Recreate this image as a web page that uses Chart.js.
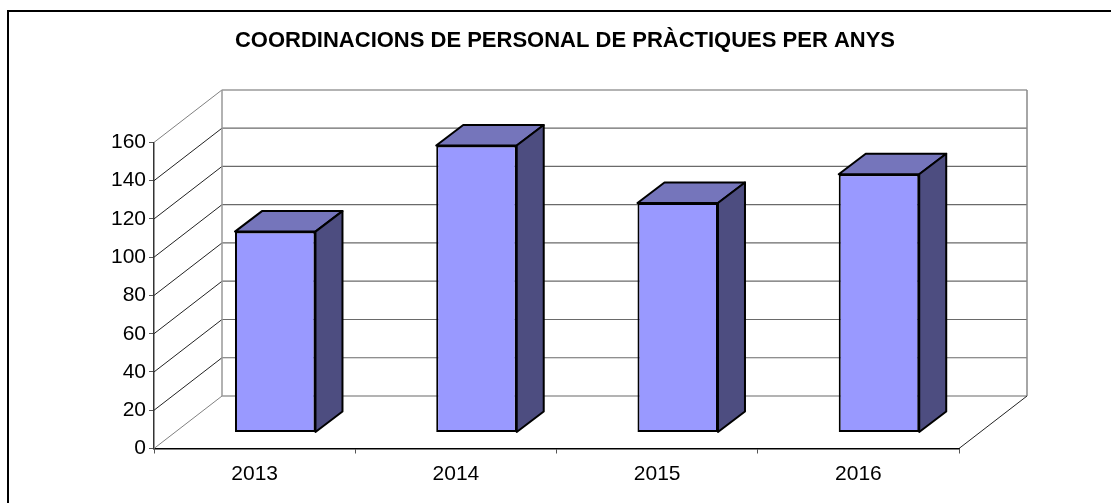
<!DOCTYPE html>
<html><head><meta charset="utf-8">
<style>html,body{margin:0;padding:0;background:#fff}canvas{display:block}</style>
<script src="https://cdn.jsdelivr.net/npm/chart.js@4"></script>
</head><body><canvas id="c" width="1111" height="503"></canvas>
<script>
const titleText = "COORDINACIONS DE PERSONAL DE PRÀCTIQUES PER ANYS";
const categories = ["2013", "2014", "2015", "2016"];
const coordinacions = [105, 150, 120, 135];

const WALL_DX = 68, WALL_DY = -52.5;      // depth of the floor/back wall
const BAR_DX = 20.6, BAR_DY = -16;        // where the bars stand on the floor
const SIDE_DX = 27, SIDE_DY = -20.5;      // depth of each bar

function line(ctx, x1, y1, x2, y2, color, w) {
  ctx.beginPath(); ctx.moveTo(x1, y1); ctx.lineTo(x2, y2);
  ctx.strokeStyle = color; ctx.lineWidth = w; ctx.stroke();
}

const scene3d = {
  id: "scene3d",
  beforeDraw(chart) {
    const ctx = chart.ctx;
    ctx.save();
    // outer frame (only top and left are in view)
    line(ctx, 8, 11, 1111, 11, "#000", 2);
    line(ctx, 8, 10, 8, 503, "#000", 2);
    ctx.restore();
  },
  beforeDatasetsDraw(chart) {
    const { ctx, scales: { x, y }, chartArea: a } = chart;
    ctx.save();
    const lastI = y.ticks.length - 1;
    y.ticks.forEach((t, i) => {
      const py = y.getPixelForValue(t.value);
      const edge = i === 0 || i === lastI;
      line(ctx, a.left, py, a.left + WALL_DX, py + WALL_DY, edge ? "#808080" : "#222", 1);
      line(ctx, a.left + WALL_DX, py + WALL_DY, a.right + WALL_DX, py + WALL_DY, edge ? "#9a9a9a" : "#6a6a6a", i === 0 || i === lastI ? 1.5 : 1.2);
    });
    // back wall edges and floor right edge
    line(ctx, a.left + WALL_DX, a.top + WALL_DY, a.left + WALL_DX, a.bottom + WALL_DY, "#999", 1.5);
    line(ctx, a.right + WALL_DX, a.top + WALL_DY, a.right + WALL_DX, a.bottom + WALL_DY, "#888", 1.5);
    line(ctx, a.right, a.bottom, a.right + WALL_DX, a.bottom + WALL_DY, "#222", 1);
    ctx.restore();
  },
  beforeDatasetDraw(chart) {
    const ctx = chart.ctx;
    ctx.save();
    ctx.translate(BAR_DX, BAR_DY);
    ctx.lineJoin = "round";
    chart.getDatasetMeta(0).data.forEach(b => {
      const p = b.getProps(["x", "y", "base", "width"], true);
      const l = p.x - p.width / 2, r = p.x + p.width / 2;
      // top face
      ctx.beginPath();
      ctx.moveTo(l, p.y); ctx.lineTo(l + SIDE_DX, p.y + SIDE_DY);
      ctx.lineTo(r + SIDE_DX, p.y + SIDE_DY); ctx.lineTo(r, p.y); ctx.closePath();
      ctx.fillStyle = "#7575BB"; ctx.fill();
      ctx.strokeStyle = "#000"; ctx.lineWidth = 2; ctx.stroke();
      // side face
      ctx.beginPath();
      ctx.moveTo(r, p.y); ctx.lineTo(r + SIDE_DX, p.y + SIDE_DY);
      ctx.lineTo(r + SIDE_DX, p.base + SIDE_DY); ctx.lineTo(r, p.base); ctx.closePath();
      ctx.fillStyle = "#4D4D80"; ctx.fill();
      ctx.stroke();
    });
  },
  afterDatasetDraw(chart) { chart.ctx.restore(); }
};

new Chart(document.getElementById("c"), {
  type: "bar",
  data: {
    labels: categories,
    datasets: [{
      data: coordinacions,
      backgroundColor: "#9999FF",
      borderColor: "#000",
      borderWidth: 2,
      borderSkipped: false,
      clip: false,
      barPercentage: 0.4,
      categoryPercentage: 1
    }]
  },
  plugins: [scene3d],
  options: {
    responsive: false,
    animation: false,
    layout: { padding: { left: 19, right: 0, top: 0, bottom: 0 } },
    plugins: {
      legend: { display: false },
      tooltip: { enabled: false },
      title: {
        display: true,
        text: titleText,
        color: "#000",
        font: { family: "'Liberation Sans'", size: 22, weight: "bold", lineHeight: 1.2 },
        padding: { top: 28, bottom: 88 }
      }
    },
    scales: {
      x: {
        type: "category",
        grid: { display: true, drawOnChartArea: false, drawTicks: true, tickLength: 5, offset: true, color: "#555", lineWidth: 1 },
        border: { display: true, color: "#000", width: 1.5 },
        ticks: { color: "#000", padding: 8, font: { family: "'Liberation Sans'", size: 21 }, maxRotation: 0 },
        afterFit(s) { s.height = 54.5; }
      },
      y: {
        min: 0, max: 160,
        grid: { display: true, drawOnChartArea: false, drawTicks: true, tickLength: 5, color: "#555", lineWidth: 1 },
        border: { display: true, color: "#333", width: 1.5 },
        ticks: { stepSize: 20, color: "#000", padding: 3, font: { family: "'Liberation Sans'", size: 21 } },
        afterFit(s) { s.width = 135; }
      },
      pad: {
        position: "right", display: true,
        grid: { display: false }, border: { display: false }, ticks: { display: false },
        afterFit(s) { s.width = 152; }
      }
    }
  }
});
</script></body></html>
